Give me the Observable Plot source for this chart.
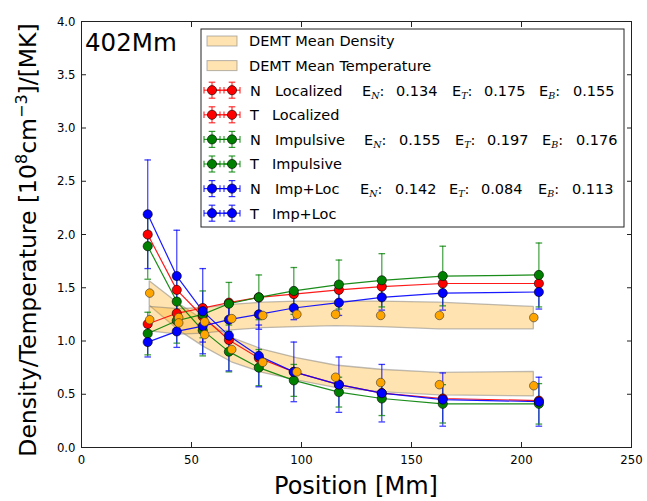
<!DOCTYPE html>
<html>
<head>
<meta charset="utf-8">
<script src="https://cdn.jsdelivr.net/npm/d3@7"></script>
<script src="https://cdn.jsdelivr.net/npm/@observablehq/plot@0.6"></script>
<style>
  html, body { margin: 0; padding: 0; background: #fff; }
  body { width: 647px; height: 501px; overflow: hidden; font-family: "DejaVu Sans", sans-serif; }
</style>
</head>
<body>
<div id="chart"></div>
<script>
// ---- data ----
const positions = [30.1, 43.3, 55.1, 67.0, 80.6, 96.5, 117.0, 136.5, 164.2, 207.9];

const locN = [2.00, 1.48, 1.23, 1.01, 0.84, 0.71, 0.59, 0.51, 0.46, 0.44];
const locT = [1.16, 1.26, 1.31, 1.36, 1.41, 1.44, 1.48, 1.51, 1.54, 1.54];
const impN = [1.89, 1.37, 1.10, 0.90, 0.75, 0.63, 0.52, 0.46, 0.41, 0.41];
const impT = [1.07, 1.19, 1.25, 1.35, 1.41, 1.47, 1.53, 1.57, 1.61, 1.62];
const ilN  = [2.19, 1.61, 1.28, 1.05, 0.86, 0.71, 0.59, 0.51, 0.45, 0.43];
const ilT  = [0.99, 1.09, 1.14, 1.20, 1.25, 1.31, 1.36, 1.41, 1.45, 1.46];

const impNerr = [0.31, 0.26, 0.24, 0.19, 0.17, 0.15, 0.14, 0.16, 0.18, 0.19];
const impTerr = [0.20, 0.21, 0.22, 0.20, 0.21, 0.22, 0.23, 0.25, 0.28, 0.30];
const ilNerr  = [0.51, 0.43, 0.40, 0.33, 0.29, 0.28, 0.26, 0.27, 0.25, 0.23];
const ilTerr  = [0.14, 0.15, 0.15, 0.15, 0.14, 0.11, 0.12, 0.12, 0.16, 0.16];

const demtPos  = [31.0, 44.2, 56.0, 68.3, 82.4, 97.9, 115.5, 136.0, 162.7, 205.6];
const demtN    = [1.45, 1.22, 1.06, 0.92, 0.80, 0.71, 0.66, 0.61, 0.59, 0.58];
const demtNlo  = [1.33, 1.10, 0.94, 0.80, 0.70, 0.63, 0.56, 0.52, 0.49, 0.48];
const demtNhi  = [1.56, 1.35, 1.19, 1.03, 0.92, 0.84, 0.77, 0.73, 0.70, 0.71];
const demtT    = [1.20, 1.17, 1.18, 1.21, 1.24, 1.25, 1.25, 1.24, 1.24, 1.22];
const demtTlo  = [1.09, 1.06, 1.07, 1.10, 1.12, 1.13, 1.14, 1.13, 1.11, 1.11];
const demtThi  = [1.32, 1.30, 1.31, 1.34, 1.36, 1.37, 1.37, 1.37, 1.36, 1.32];

const xTicks = [0, 50, 100, 150, 200, 250];
const yTicks = [0.0, 0.5, 1.0, 1.5, 2.0, 2.5, 3.0, 3.5, 4.0];

const seriesDefs = [
  {key: "N Localized", color: "#ff0000", y: locN, err: null},
  {key: "T Localized", color: "#ff0000", y: locT, err: null},
  {key: "N Impulsive", color: "#008000", y: impN, err: impNerr},
  {key: "T Impulsive", color: "#008000", y: impT, err: impTerr},
  {key: "N Imp+Loc",   color: "#0000ff", y: ilN,  err: ilNerr},
  {key: "T Imp+Loc",   color: "#0000ff", y: ilT,  err: ilTerr}
];

const legendItems = [
  {type: "band", label: "DEMT Mean Density"},
  {type: "band", label: "DEMT Mean Temperature"},
  {type: "err", color: "#ff0000", q: "N", name: "Localized", E: ["0.134", "0.175", "0.155"]},
  {type: "err", color: "#ff0000", q: "T", name: "Localized"},
  {type: "err", color: "#008000", q: "N", name: "Impulsive", E: ["0.155", "0.197", "0.176"]},
  {type: "err", color: "#008000", q: "T", name: "Impulsive"},
  {type: "err", color: "#0000ff", q: "N", name: "Imp+Loc", E: ["0.142", "0.084", "0.113"]},
  {type: "err", color: "#0000ff", q: "T", name: "Imp+Loc"}
];

// ---- tables ----
const pts = seriesDefs.flatMap(s => positions.map((x, i) => ({key: s.key, color: s.color, x, y: s.y[i], e: s.err ? s.err[i] : null})));
const errPts = pts.filter(d => d.e != null);
const caps = errPts.flatMap(d => [{...d, cy: d.y - d.e}, {...d, cy: d.y + d.e}]);
const demt = demtPos.map((x, i) => ({x, n: demtN[i], nlo: demtNlo[i], nhi: demtNhi[i], t: demtT[i], tlo: demtTlo[i], thi: demtThi[i]}));

const capSymbol = {
  draw(ctx, size) { const r = Math.sqrt(size / Math.PI); ctx.moveTo(-r, 0); ctx.lineTo(r, 0); }
};

const tickFont = {fontFamily: "'DejaVu Sans Condensed', 'Liberation Sans Narrow', 'DejaVu Sans', sans-serif"};

const svg = Plot.plot({
  width: 647,
  height: 501,
  marginLeft: 81,
  marginRight: 16,
  marginTop: 21,
  marginBottom: 54,
  style: {background: "#fff", fontFamily: "DejaVu Sans, sans-serif", fontSize: "12.5px", color: "#000"},
  x: {domain: [0, 250]},
  y: {domain: [0, 4]},
  color: {type: "identity"},
  marks: [
    Plot.areaY(demt, {x: "x", y1: "nlo", y2: "nhi", fill: "orange", fillOpacity: 0.3, stroke: "#6e6e6e", strokeOpacity: 0.45, strokeWidth: 1.3}),
    Plot.areaY(demt, {x: "x", y1: "tlo", y2: "thi", fill: "orange", fillOpacity: 0.3, stroke: "#6e6e6e", strokeOpacity: 0.45, strokeWidth: 1.3}),
    Plot.ruleX(errPts, {x: "x", y1: d => d.y - d.e, y2: d => d.y + d.e, stroke: "color", strokeOpacity: 0.7, strokeWidth: 1.3}),
    Plot.dot(caps, {x: "x", y: "cy", symbol: capSymbol, r: 3.3, stroke: "color", strokeOpacity: 0.75, strokeWidth: 1.3, fill: "none"}),
    Plot.line(pts, {x: "x", y: "y", z: "key", stroke: "color", strokeWidth: 1.2, strokeOpacity: 0.9}),
    Plot.dot(pts, {x: "x", y: "y", r: 4.6, fill: "color", stroke: "#000", strokeWidth: 0.6}),
    Plot.dot(demt, {x: "x", y: "n", r: 4.3, fill: "orange", stroke: "#333", strokeWidth: 0.6}),
    Plot.dot(demt, {x: "x", y: "t", r: 4.3, fill: "orange", stroke: "#333", strokeWidth: 0.6}),
    Plot.axisX({ticks: xTicks, tickSize: 0, tickPadding: 7, label: null, tickFormat: d => String(d), ...tickFont, fontSize: 13}),
    Plot.axisX({ticks: xTicks, tickSize: 5, dy: -5, label: null, tickFormat: () => "", stroke: "#222"}),
    Plot.axisX({anchor: "top", ticks: xTicks, tickSize: 5, dy: 5, label: null, tickFormat: () => "", stroke: "#222"}),
    Plot.axisY({ticks: yTicks, tickSize: 0, tickPadding: 6, label: null, tickFormat: d => d.toFixed(1), ...tickFont, fontSize: 13}),
    Plot.axisY({ticks: yTicks, tickSize: 5, dx: 5, label: null, tickFormat: () => "", stroke: "#222"}),
    Plot.axisY({anchor: "right", ticks: yTicks, tickSize: 5, dx: -5, label: null, tickFormat: () => "", stroke: "#222"}),
    Plot.frame({stroke: "#222", strokeWidth: 1})
  ]
});

document.getElementById("chart").appendChild(svg);

// ---- annotations: axis titles, panel label, legend ----
const s = d3.select(svg);
const F = "DejaVu Sans, sans-serif";

s.append("text").attr("x", 356).attr("y", 494).attr("text-anchor", "middle")
  .style("font-family", F).style("font-size", "24px").attr("fill", "#000").text("Position [Mm]");

const yl = s.append("text").attr("transform", "translate(36,240) rotate(-90)").attr("text-anchor", "middle")
  .style("font-family", F).style("font-size", "23.5px").attr("fill", "#000");
yl.append("tspan").text("Density/Temperature [10");
yl.append("tspan").attr("dy", -9).style("font-size", "16px").text("8");
yl.append("tspan").attr("dy", 9).text("cm");
yl.append("tspan").attr("dy", -9).style("font-size", "16px").text("\u22123");
yl.append("tspan").attr("dy", 9).text("]/[MK]");

s.append("text").attr("x", 85).attr("y", 51).attr("text-anchor", "start")
  .style("font-family", F).style("font-size", "24.5px").attr("fill", "#000").text("402Mm");

const lg = s.append("g").attr("text-anchor", "start");
lg.append("rect").attr("x", 201).attr("y", 29).attr("width", 423).attr("height", 198)
  .attr("fill", "#fff").attr("stroke", "#222").attr("stroke-width", 1);

const eLayouts = {
  "Localized": [362, 396, 452, 484, 539, 573],
  "Impulsive": [364, 399, 455, 487, 542, 576],
  "Imp+Loc":   [360, 395, 449, 481, 538, 572]
};
const subs = ["N", "T", "B"];

function txt(g, x, y) {
  return g.append("text").attr("x", x).attr("y", y).attr("text-anchor", "start")
    .style("font-family", F).style("font-size", "14.5px").attr("fill", "#000");
}

legendItems.forEach((it, i) => {
  const cy = 41 + i * 24.6;
  const g = lg.append("g");
  if (it.type === "band") {
    g.append("rect").attr("x", 207).attr("y", cy - 5).attr("width", 30).attr("height", 10)
      .attr("fill", "orange").attr("fill-opacity", 0.3).attr("stroke", "#6e6e6e").attr("stroke-opacity", 0.5);
    txt(g, 249, cy + 5.3).text(it.label);
  } else {
    const c = it.color;
    [212, 232].forEach(mx => {
      g.append("line").attr("x1", mx - 8).attr("x2", mx + 8).attr("y1", cy).attr("y2", cy).attr("stroke", c).attr("stroke-opacity", 0.8).attr("stroke-width", 1.2);
      [mx - 8, mx + 8].forEach(ex => g.append("line").attr("x1", ex).attr("x2", ex).attr("y1", cy - 3.3).attr("y2", cy + 3.3).attr("stroke", c).attr("stroke-opacity", 0.8).attr("stroke-width", 1.2));
      g.append("line").attr("x1", mx).attr("x2", mx).attr("y1", cy - 8).attr("y2", cy + 8).attr("stroke", c).attr("stroke-opacity", 0.8).attr("stroke-width", 1.2);
      [cy - 8, cy + 8].forEach(ey => g.append("line").attr("x1", mx - 3.3).attr("x2", mx + 3.3).attr("y1", ey).attr("y2", ey).attr("stroke", c).attr("stroke-opacity", 0.8).attr("stroke-width", 1.2));
    });
    g.append("line").attr("x1", 212).attr("x2", 232).attr("y1", cy).attr("y2", cy).attr("stroke", c).attr("stroke-width", 1.2);
    [212, 232].forEach(mx => g.append("circle").attr("cx", mx).attr("cy", cy).attr("r", 4.6).attr("fill", c).attr("stroke", "#000").attr("stroke-width", 0.6));
    const ty = cy + 5.3;
    txt(g, 250, ty).text(it.q);
    txt(g, it.q === "N" ? 275 : 272, ty).text(it.name);
    if (it.E) {
      const L = eLayouts[it.name];
      it.E.forEach((v, k) => {
        const t = txt(g, L[2 * k], ty);
        t.append("tspan").text("E");
        t.append("tspan").attr("dy", 3).style("font-family", "'DejaVu Serif', serif").style("font-style", "italic").style("font-size", "9.5px").text(subs[k]);
        t.append("tspan").attr("dy", -3).text(":");
        txt(g, L[2 * k + 1], ty).text(v);
      });
    }
  }
});
</script>
</body>
</html>
